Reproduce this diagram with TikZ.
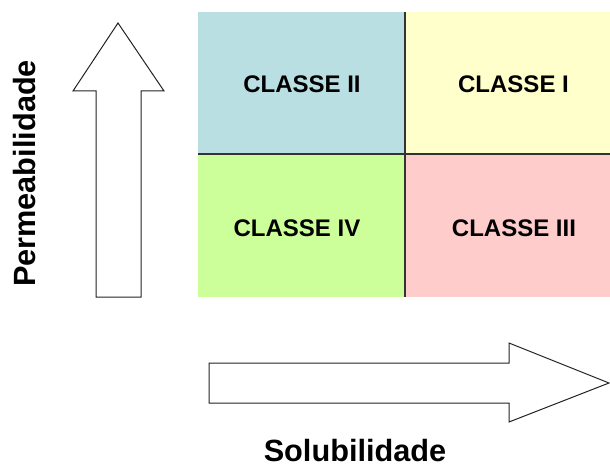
\documentclass[tikz,border=0pt]{standalone}
\usepackage{fontspec}
\setmainfont{Liberation Sans}
\definecolor{cblue}{HTML}{B9DFE3}
\definecolor{cyellow}{HTML}{FFFFCC}
\definecolor{cgreen}{HTML}{CCFF99}
\definecolor{cpink}{HTML}{FFCCCC}
\definecolor{gridline}{HTML}{333333}
\definecolor{arrline}{HTML}{222222}
\begin{document}
\begin{tikzpicture}[x=1pt,y=-1pt,
  classlabel/.style={anchor=base,inner sep=0pt,font=\bfseries\fontsize{24}{28}\selectfont},
  axislabel/.style={anchor=base,inner sep=0pt,font=\bfseries\fontsize{30.7}{34}\selectfont},
  bigarrow/.style={draw=arrline,line width=1pt,fill=white,line join=miter}]
\useasboundingbox (0,0) rectangle (610,468);
% cells
\fill[cblue] (198,12) rectangle (405,154);
\fill[cyellow] (405,12) rectangle (610,154);
\fill[cgreen] (198,154) rectangle (405,297);
\fill[cpink] (405,154) rectangle (610,297);
\draw[gridline,line width=1.2pt] (198,154) -- (610,154);
\draw[gridline,line width=1.2pt] (405,12) -- (405,297);
% labels
\node[classlabel] (c2) at (302,93) {CLASSE II};
\node[classlabel] (c1) at (513.5,93) {CLASSE I};
\node[classlabel] (c4) at (297,236) {CLASSE IV};
\node[classlabel] (c3) at (514,236) {CLASSE III};
% arrows
\draw[bigarrow] (96,297) -- (96,91) -- (73,91) -- (118,23) -- (164,91) -- (141,91) -- (141,297) -- cycle;
\draw[bigarrow] (209,363) -- (509,363) -- (509,343) -- (609,383) -- (509,422) -- (509,403) -- (209,403) -- cycle;
% axis labels
\node[axislabel,rotate=90] (perm) at (35,173.5) {Permeabilidade};
\node[axislabel] (solu) at (355,461) {Solubilidade};
\end{tikzpicture}
\end{document}
